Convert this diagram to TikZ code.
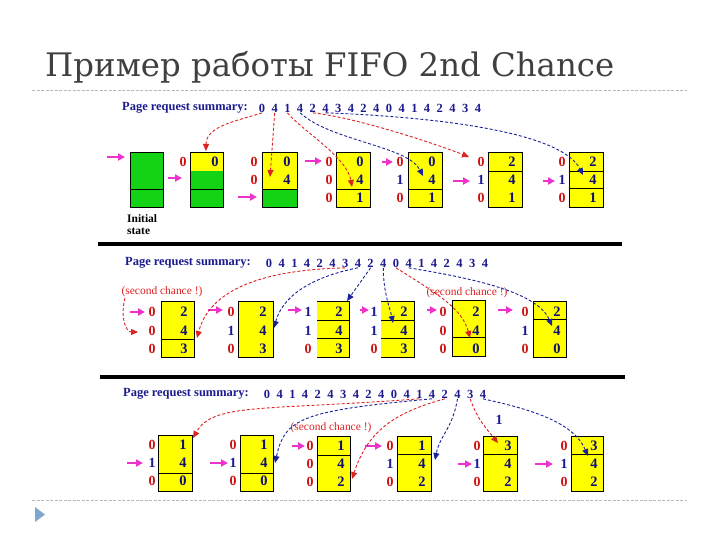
\documentclass[tikz,border=0pt]{standalone}
\usepackage{fontspec}
\setmainfont{Liberation Serif}
\newfontfamily\titlefont{DejaVu Serif}
\usetikzlibrary{arrows.meta}
\definecolor{lred}{RGB}{204,17,17}
\definecolor{lblue}{RGB}{26,26,150}
\definecolor{valc}{RGB}{16,16,112}
\definecolor{sumc}{RGB}{27,27,143}
\definecolor{yel}{RGB}{255,255,0}
\definecolor{grn}{RGB}{20,210,20}
\definecolor{mag}{RGB}{238,51,204}
\definecolor{arr}{RGB}{221,34,34}
\definecolor{arb}{RGB}{26,34,153}
\definecolor{titlec}{RGB}{64,64,64}
\definecolor{tri}{RGB}{127,166,204}
\newcommand\lbls[5]{\foreach \t/\c [count=\k] in {#5} \node[lbl,text=\c] (#1l\k) at (#2,#3+#4*\k-#4) {\t};}
\newcommand\vals[5]{\foreach \t [count=\k] in {#5} \node[val] (#1v\k) at (#2,#3+#4*\k-#4) {\t};}
\begin{document}
\begin{tikzpicture}[x=1bp,y=-1bp,
  frame/.style={draw=black,line width=0.9bp,fill=yel,inner sep=0,anchor=north west},
  lbl/.style={font=\bfseries\fontsize{14}{14}\selectfont,inner sep=0.5bp},
  val/.style={font=\bfseries\fontsize{14.5}{14.5}\selectfont,text=valc,inner sep=0.5bp},
  num/.style={font=\bfseries\fontsize{12.5}{12.5}\selectfont,text=sumc,inner sep=0.5bp},
  summ/.style={font=\bfseries\fontsize{12.5}{12.5}\selectfont,text=sumc,anchor=west,inner sep=0},
  sch/.style={font=\fontsize{11.5}{11.5}\selectfont,text=arr,inner sep=0},
  pk/.style={draw=mag,line width=2bp,-{Triangle[length=7bp,width=7bp]}},
  ra/.style={draw=arr,line width=0.9bp,dash pattern=on 3bp off 2bp,-{Triangle[length=7bp,width=6bp]}},
  ba/.style={draw=arb,line width=0.9bp,dash pattern=on 3bp off 2bp,-{Triangle[length=7bp,width=6bp]}},
  sep/.style={line width=4bp,black},
  cl/.style={line width=0.9bp,black},
  gl/.style={draw=gray!55,line width=0.6bp,dash pattern=on 3bp off 1.5bp}]
\useasboundingbox (0,0) rectangle (720,540);
\fill[white] (0,0) rectangle (720,540);
% title
\node[anchor=base west,font=\titlefont\fontsize{32.5}{33}\selectfont,text=titlec,inner sep=0] (title) at (45,77) {Пример работы FIFO 2nd Chance};
\draw[gl] (32,90) -- (687,90);
\draw[gl] (32,500) -- (687,500);
\fill[tri] (35,507) -- (45,514.5) -- (35,522) -- cycle;
% separators
\draw[sep] (98,244) -- (622,244);
\draw[sep] (100,377) -- (625,377);
% ---------------- row 1
\node[summ] (s1) at (122,108) {Page request summary:};
\foreach \v [count=\i from 0] in {0,4,1,4,2,4,3,4,2,4,0,4,1,4,2,4,3,4} \node[num] (a\i) at (262+12.7*\i,108) {\v};
\node[frame,fill=grn,minimum width=33bp,minimum height=55bp] (r1b1) at (130,152) {};
\draw[cl] (r1b1.west |- 0,189) -- (r1b1.east |- 0,189);
\node[frame,minimum width=33bp,minimum height=55bp] (r1b2) at (190,152) {};
\fill[grn] (r1b2.west |- 0,171) rectangle (r1b2.south east);
\draw[cl] (r1b2.north west) rectangle (r1b2.south east);
\draw[cl] (r1b2.west |- 0,189) -- (r1b2.east |- 0,189);
\node[frame,minimum width=35bp,minimum height=55bp] (r1b3) at (262,152) {};
\fill[grn] (r1b3.west |- 0,189) rectangle (r1b3.south east);
\draw[cl] (r1b3.north west) rectangle (r1b3.south east);
\draw[cl] (r1b3.west |- 0,189) -- (r1b3.east |- 0,189);
\node[frame,minimum width=34bp,minimum height=55bp] (r1b4) at (336,152) {};
\draw[cl] (r1b4.west |- 0,189) -- (r1b4.east |- 0,189);
\node[frame,minimum width=34bp,minimum height=55bp] (r1b5) at (408,152) {};
\draw[cl] (r1b5.west |- 0,189) -- (r1b5.east |- 0,189);
\node[frame,minimum width=34bp,minimum height=55bp] (r1b6) at (488,152) {};
\draw[cl] (r1b6.west |- 0,171) -- (r1b6.east |- 0,171);
\node[frame,minimum width=34bp,minimum height=55bp] (r1b7) at (569,152) {};
\draw[cl] (r1b7.west |- 0,171) -- (r1b7.east |- 0,171);
\draw[cl] (r1b7.west |- 0,188) -- (r1b7.east |- 0,188);
\lbls{r1b2}{183}{162}{18}{0/lred}
\vals{r1b2}{215}{162}{18}{0}
\lbls{r1b3}{254}{162}{18}{0/lred,0/lred}
\vals{r1b3}{287}{162}{18}{0,4}
\lbls{r1b4}{329}{162}{18}{0/lred,0/lred,0/lred}
\vals{r1b4}{360}{162}{18}{0,4,1}
\lbls{r1b5}{400}{162}{18}{0/lred,1/lblue,0/lred}
\vals{r1b5}{432}{162}{18}{0,4,1}
\lbls{r1b6}{481}{162}{18}{0/lred,1/lblue,0/lred}
\vals{r1b6}{512}{162}{18}{2,4,1}
\lbls{r1b7}{562}{162}{18}{0/lred,1/lblue,0/lred}
\vals{r1b7}{593}{162}{18}{2,4,1}
\node[font=\bfseries\fontsize{11.5}{12}\selectfont,align=left,anchor=north west,inner sep=0] (init) at (127,214) {Initial\\state};
\foreach \n/\xa/\xb/\yy in {p11/107/125/157,p12/168/182/178,p13/238/257/197,p14/305/322/161,p15/382/393/162,p16/453/470/181,p17/543/555/181}
  {\coordinate (\n-s) at (\xa,\yy); \coordinate (\n-e) at (\xb,\yy); \draw[pk] (\n-s) -- (\n-e);}
\coordinate (t11) at (206,151); \draw[ra] (a0.south) .. controls +(-25,8) and +(0,-25) .. (t11);
\coordinate (t12) at (270,177); \draw[ra] (a1.south) -- (t12);
\coordinate (t13) at (352,187); \draw[ra] (a2.south) .. controls +(15,18) and +(-5,-30) .. (t13);
\coordinate (t14) at (423,176); \draw[ba] (a3.south) .. controls +(30,28) and +(-15,-30) .. (t14);
\coordinate (t15) at (469,157); \draw[ra] (a4.south) .. controls +(45,5) and +(-30,-12) .. (t15);
\coordinate (t16) at (583,175); \draw[ba] (a5.south) .. controls +(130,5) and +(-20,-40) .. (t16);
% ---------------- row 2
\node[summ] (s2) at (125,263) {Page request summary:};
\foreach \v [count=\i from 0] in {0,4,1,4,2,4,3,4,2,4,0,4,1,4,2,4,3,4} \node[num] (b\i) at (269+12.7*\i,263) {\v};
\node[sch] (sc1) at (162,292) {(second chance !)};
\node[sch] (sc2) at (467,293) {(second chance !)};
\node[frame,minimum width=33bp,minimum height=56bp] (r2b1) at (161,301) {};
\draw[cl] (r2b1.west |- 0,339) -- (r2b1.east |- 0,339);
\node[frame,minimum width=35bp,minimum height=56bp] (r2b2) at (238,301) {};
\node[frame,draw=none,minimum width=32bp,minimum height=56bp] (r2b3) at (317,301) {};
\draw[cl] (r2b3.north west) -- (r2b3.north east) -- (r2b3.south east) -- (r2b3.south west);
\draw[cl] (r2b3.west |- 0,320) -- (r2b3.east |- 0,320);
\draw[cl] (r2b3.west |- 0,338) -- (r2b3.east |- 0,338);
\node[frame,draw=none,minimum width=33bp,minimum height=56bp] (r2b4) at (381,301) {};
\draw[cl] (r2b4.north west) -- (r2b4.north east) -- (r2b4.south east) -- (r2b4.south west);
\draw[cl] (r2b4.west |- 0,320) -- (r2b4.east |- 0,320);
\draw[cl] (r2b4.west |- 0,338) -- (r2b4.east |- 0,338);
\node[frame,minimum width=33bp,minimum height=56bp] (r2b5) at (452,300) {};
\draw[cl] (r2b5.west |- 0,337) -- (r2b5.east |- 0,337);
\node[frame,minimum width=33bp,minimum height=56bp] (r2b6) at (533,301) {};
\draw[cl] (r2b6.west |- 0,319) -- (r2b6.east |- 0,319);
\lbls{r2b1}{152}{312}{18.5}{0/lred,0/lred,0/lred}
\vals{r2b1}{184}{312}{18.5}{2,4,3}
\lbls{r2b2}{231}{312}{18.5}{0/lred,1/lblue,0/lred}
\vals{r2b2}{263}{312}{18.5}{2,4,3}
\lbls{r2b3}{308}{312}{18.5}{1/lblue,1/lblue,0/lred}
\vals{r2b3}{339}{312}{18.5}{2,4,3}
\lbls{r2b4}{374}{312}{18.5}{1/lblue,1/lblue,0/lred}
\vals{r2b4}{404}{312}{18.5}{2,4,3}
\lbls{r2b5}{443}{312}{18.5}{0/lred,0/lred,0/lred}
\vals{r2b5}{476}{312}{18.5}{2,4,0}
\lbls{r2b6}{525}{312}{18.5}{0/lred,1/lblue,0/lred}
\vals{r2b6}{557}{312}{18.5}{2,4,0}
\foreach \n/\xa/\xb/\yy in {p21/130/145/312,p22/208/223/310,p23/288/302/310,p24/360/369/310,p25/427/437/310,p26/498/513/310}
  {\coordinate (\n-s) at (\xa,\yy); \coordinate (\n-e) at (\xb,\yy); \draw[pk] (\n-s) -- (\n-e);}
\coordinate (l2s) at (125,298); \coordinate (l2e) at (138,332);
\draw[ra] (l2s) .. controls +(-5,20) and +(-12,0) .. (l2e);
\coordinate (t21) at (197,338); \draw[ra] (b6.south) .. controls +(-90,2) and +(12,-45) .. (t21);
\coordinate (t22) at (274,328); \draw[ba] (b7.south) .. controls +(-50,10) and +(8,-30) .. (t22);
\coordinate (t23) at (347,301); \draw[ba] (b8.south) -- (t23);
\coordinate (t24) at (393,323); \draw[ba] (b9.south) .. controls +(0,25) and +(-3,-15) .. (t24);
\coordinate (t25) at (470,338); \draw[ra] (b10.south) .. controls +(40,25) and +(-8,-30) .. (t25);
\coordinate (t26) at (552,326); \draw[ba] (b11.south) .. controls +(60,10) and +(-15,-35) .. (t26);
% ---------------- row 3
\node[summ] (s3) at (123,394) {Page request summary:};
\foreach \v [count=\i from 0] in {0,4,1,4,2,4,3,4,2,4,0,4,1,4,2,4,3,4} \node[num] (c\i) at (267+12.7*\i,394) {\v};
\node[sch] (sc3) at (331,428) {(second chance !)};
\node[lbl,text=lblue] (one) at (499,420) {1};
\node[frame,minimum width=34bp,minimum height=56bp] (r3b1) at (158,435) {};
\draw[cl] (r3b1.west |- 0,473) -- (r3b1.east |- 0,473);
\node[frame,minimum width=33bp,minimum height=56bp] (r3b2) at (240,435) {};
\draw[cl] (r3b2.west |- 0,473) -- (r3b2.east |- 0,473);
\node[frame,minimum width=33bp,minimum height=55bp] (r3b3) at (317,436) {};
\draw[cl] (r3b3.west |- 0,455) -- (r3b3.east |- 0,455);
\node[frame,minimum width=34bp,minimum height=55bp] (r3b4) at (397,436) {};
\draw[cl] (r3b4.west |- 0,454) -- (r3b4.east |- 0,454);
\node[frame,minimum width=34bp,minimum height=55bp] (r3b5) at (483,436) {};
\draw[cl] (r3b5.west |- 0,454) -- (r3b5.east |- 0,454);
\node[frame,minimum width=32bp,minimum height=55bp] (r3b6) at (571,436) {};
\draw[cl] (r3b6.west |- 0,454) -- (r3b6.east |- 0,454);
\lbls{r3b1}{152}{445}{18}{0/lred,1/lblue,0/lred}
\vals{r3b1}{183}{445}{18}{1,4,0}
\lbls{r3b2}{233}{445}{18}{0/lred,1/lblue,0/lred}
\vals{r3b2}{264}{445}{18}{1,4,0}
\lbls{r3b3}{310}{446}{18}{0/lred,0/lred,0/lred}
\vals{r3b3}{341}{446}{18}{1,4,2}
\lbls{r3b4}{390}{446}{18}{0/lred,1/lblue,0/lred}
\vals{r3b4}{422}{446}{18}{1,4,2}
\lbls{r3b5}{477}{446}{18}{0/lred,1/lblue,0/lred}
\vals{r3b5}{508}{446}{18}{3,4,2}
\lbls{r3b6}{564}{446}{18}{0/lred,1/lblue,0/lred}
\vals{r3b6}{594}{446}{18}{3,4,2}
\foreach \n/\xa/\xb/\yy in {p31/127/143/463,p32/210/228/463,p33/292/305/446,p34/365/382/446,p35/458/472/464,p36/535/553/464}
  {\coordinate (\n-s) at (\xa,\yy); \coordinate (\n-e) at (\xb,\yy); \draw[pk] (\n-s) -- (\n-e);}
\coordinate (t31) at (193,438); \draw[ra] (c12.south) .. controls +(-160,12) and +(20,-35) .. (t31);
\coordinate (t32) at (275,463); \draw[ba] (c13.south) .. controls +(-130,12) and +(10,-45) .. (t32);
\coordinate (t33) at (352,479); \draw[ra] (c14.south) .. controls +(-55,15) and +(15,-45) .. (t33);
\coordinate (t34) at (435,460); \draw[ba] (c15.south) .. controls +(-5,30) and +(5,-25) .. (t34);
\coordinate (t35) at (498,443); \draw[ra] (c16.south) .. controls +(8,22) and +(-12,-15) .. (t35);
\coordinate (t36) at (588,456); \draw[ba] (c17.south) .. controls +(45,10) and +(-15,-35) .. (t36);
\end{tikzpicture}
\end{document}
